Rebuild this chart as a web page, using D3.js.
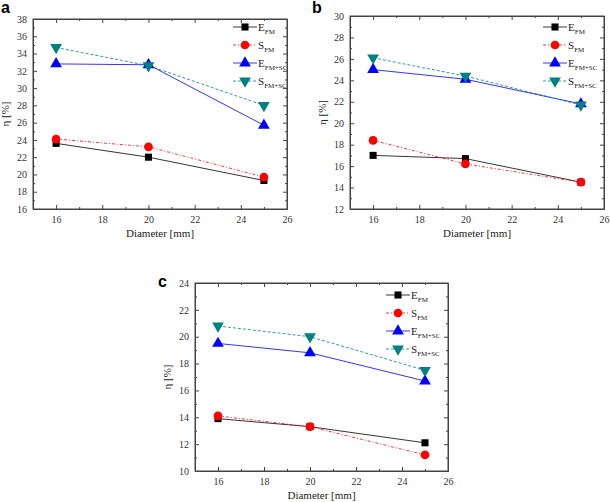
<!DOCTYPE html>
<html>
<head>
<meta charset="utf-8">
<script src="https://cdn.jsdelivr.net/npm/d3@7"></script>
<style>
  body { margin: 0; background: #fff; }
  svg { display: block; }
  .tick text { font-family: "Liberation Serif", serif; font-size: 10px; fill: #333; }
</style>
</head>
<body>
<svg id="chart" width="610" height="502"></svg>
<script>
// diameters (mm)
const diameters = [16, 20, 25];
const seriesNames = ["E", "S", "E", "S"];
const seriesSubs = ["FM", "FM", "FM+SC", "FM+SC"];

// panel a
const aEFM = [23.6, 22.0, 19.3];
const aSFM = [24.1, 23.2, 19.7];
const aEFMSC = [32.8, 32.7, 25.7];
const aSFMSC = [34.7, 32.6, 28.0];
// panel b
const bEFM = [17.0, 16.7, 14.5];
const bSFM = [18.4, 16.2, 14.5];
const bEFMSC = [25.0, 24.1, 21.8];
const bSFMSC = [26.1, 24.4, 21.7];
// panel c
const cEFM = [13.9, 13.3, 12.1];
const cSFM = [14.1, 13.3, 11.2];
const cEFMSC = [19.5, 18.8, 16.7];
const cSFMSC = [20.8, 20.0, 17.5];

const xTicks = [16, 18, 20, 22, 24, 26];

const styles = [
  { color: "#000000", dash: null, shape: d3.symbolSquare, size: 50, rot: 0 },
  { color: "#ff0000", dash: "3,2,1,2", shape: d3.symbolCircle, size: 60, rot: 0 },
  { color: "#0000ff", dash: null, shape: d3.symbolTriangle, size: 60, rot: 0 },
  { color: "#008080", dash: "3,2", shape: d3.symbolTriangle, size: 60, rot: 180 }
];

const svg = d3.select("#chart");

function drawPanel(p) {
  const g = svg.append("g");
  const x = d3.scaleLinear([15, 26], [p.left, p.right]);
  const y = d3.scaleLinear(p.yDomain, [p.bottom, p.top]);
  const yTicks = d3.range(p.yDomain[0], p.yDomain[1] + 0.01, 2);
  const yMinor = d3.range(p.yDomain[0] + 1, p.yDomain[1], 2);
  const xMinor = d3.range(15, 26, 1).filter(v => !xTicks.includes(v));

  // axes with inward ticks
  const bottomAxis = d3.axisBottom(x).tickValues(xTicks).tickSizeInner(-4).tickSizeOuter(0).tickPadding(7);
  const leftAxis = d3.axisLeft(y).tickValues(yTicks).tickSizeInner(-4).tickSizeOuter(0).tickPadding(6);
  const gx = g.append("g").attr("transform", `translate(0,${p.bottom})`).call(bottomAxis);
  const gy = g.append("g").attr("transform", `translate(${p.left},0)`).call(leftAxis);
  const gxt = g.append("g").attr("transform", `translate(0,${p.top})`)
    .call(d3.axisTop(x).tickValues(xTicks).tickSizeInner(-4).tickSizeOuter(0).tickFormat(""));
  const gyr = g.append("g").attr("transform", `translate(${p.right},0)`)
    .call(d3.axisRight(y).tickValues(yTicks).tickSizeInner(-4).tickSizeOuter(0).tickFormat(""));
  // minor ticks
  g.append("g").attr("transform", `translate(0,${p.bottom})`)
    .call(d3.axisBottom(x).tickValues(xMinor).tickSizeInner(-2).tickSizeOuter(0).tickFormat(""));
  g.append("g").attr("transform", `translate(0,${p.top})`)
    .call(d3.axisTop(x).tickValues(xMinor).tickSizeInner(-2).tickSizeOuter(0).tickFormat(""));
  g.append("g").attr("transform", `translate(${p.left},0)`)
    .call(d3.axisLeft(y).tickValues(yMinor).tickSizeInner(-2).tickSizeOuter(0).tickFormat(""));
  g.append("g").attr("transform", `translate(${p.right},0)`)
    .call(d3.axisRight(y).tickValues(yMinor).tickSizeInner(-2).tickSizeOuter(0).tickFormat(""));
  g.selectAll(".domain").attr("stroke", "#444");
  g.selectAll(".tick line").attr("stroke", "#444");

  // frame
  g.append("rect")
    .attr("x", p.left).attr("y", p.top)
    .attr("width", p.right - p.left).attr("height", p.bottom - p.top)
    .attr("fill", "none").attr("stroke", "#444").attr("stroke-width", 1);

  // series
  const line = d3.line().x((d, i) => x(diameters[i])).y(d => y(d));
  p.series.forEach((vals, k) => {
    const st = styles[k];
    g.append("path").datum(vals)
      .attr("d", line)
      .attr("fill", "none")
      .attr("stroke", st.color)
      .attr("stroke-width", 0.8)
      .attr("stroke-dasharray", st.dash);
  });
  p.series.forEach((vals, k) => {
    const st = styles[k];
    g.selectAll(null).data(vals).enter().append("path")
      .attr("d", d3.symbol(st.shape, st.size))
      .attr("transform", (d, i) => `translate(${x(diameters[i])},${y(d)}) rotate(${st.rot})`)
      .attr("fill", st.color);
  });

  // legend
  seriesNames.forEach((name, k) => {
    const st = styles[k];
    const ly = p.legY + k * 18;
    g.append("line")
      .attr("x1", p.legX - 12).attr("x2", p.legX + 12)
      .attr("y1", ly).attr("y2", ly)
      .attr("stroke", st.color).attr("stroke-width", 0.8)
      .attr("stroke-dasharray", st.dash);
    g.append("path")
      .attr("d", d3.symbol(st.shape, st.size))
      .attr("transform", `translate(${p.legX},${ly}) rotate(${st.rot})`)
      .attr("fill", st.color);
    const t = g.append("text")
      .attr("x", p.legX + 13).attr("y", ly + 4)
      .attr("font-family", "Liberation Serif, serif")
      .attr("font-size", 11).attr("fill", "#222");
    t.append("tspan").text(name);
    t.append("tspan").attr("font-size", 7).attr("dy", 3).text(seriesSubs[k]);
  });

  // axis titles
  g.append("text")
    .attr("transform", `translate(${p.left - 24},${(p.top + p.bottom) / 2}) rotate(-90)`)
    .attr("text-anchor", "middle")
    .attr("font-family", "Liberation Serif, serif")
    .attr("font-size", 11).attr("fill", "#222")
    .text("η [%]");
  g.append("text")
    .attr("x", (p.left + p.right) / 2).attr("y", p.bottom + 28)
    .attr("text-anchor", "middle")
    .attr("font-family", "Liberation Serif, serif")
    .attr("font-size", 11).attr("fill", "#222")
    .text("Diameter [mm]");

  // panel letter
  g.append("text")
    .attr("x", p.letterX).attr("y", p.letterY)
    .attr("font-family", "Liberation Sans, Arial, sans-serif")
    .attr("font-weight", "bold").attr("font-size", 16)
    .attr("fill", "#000")
    .text(p.letter);
}

drawPanel({
  letter: "a", letterX: 1, letterY: 13,
  left: 33, right: 287, top: 19, bottom: 209,
  yDomain: [16, 38],
  series: [aEFM, aSFM, aEFMSC, aSFMSC],
  legX: 245, legY: 27
});
drawPanel({
  letter: "b", letterX: 312, letterY: 13,
  left: 350, right: 604, top: 16, bottom: 209,
  yDomain: [12, 30],
  series: [bEFM, bSFM, bEFMSC, bSFMSC],
  legX: 555, legY: 27
});
drawPanel({
  letter: "c", letterX: 158, letterY: 287,
  left: 195, right: 448, top: 283, bottom: 471,
  yDomain: [10, 24],
  series: [cEFM, cSFM, cEFMSC, cSFMSC],
  legX: 398, legY: 295
});
</script>
</body>
</html>
